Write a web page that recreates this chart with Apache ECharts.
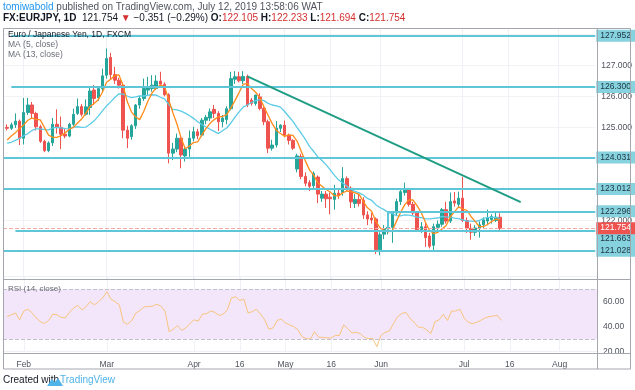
<!DOCTYPE html>
<html><head><meta charset="utf-8">
<script src="https://cdn.jsdelivr.net/npm/echarts@6/dist/echarts.min.js"></script>
<style>html,body{margin:0;padding:0;background:#fff}#c{width:635px;height:390px}</style>
</head><body><div id="c"></div>
<script>
// ---- data (daily bars from 2019-01-28 to 2019-07-12) ----
const firstBarDate = '2019-01-28';
const openP = [125.00,124.97,125.08,125.20,124.65,125.48,125.72,125.45,125.02,124.55,124.25,124.50,125.10,125.00,124.78,124.72,125.10,125.45,125.67,125.42,
125.64,126.20,125.95,126.25,126.68,127.25,126.70,126.52,126.36,124.91,124.70,125.05,125.72,125.93,126.20,126.25,126.25,126.49,126.39,126.05,
124.17,124.30,124.65,124.08,124.30,124.65,124.86,124.75,125.23,125.30,125.58,125.45,125.18,125.25,125.60,126.55,126.63,126.50,126.64,125.88,
125.77,125.98,125.61,125.18,124.33,124.43,124.97,125.07,124.75,124.58,123.66,124.06,123.42,123.22,123.12,123.40,122.72,122.85,122.75,122.68,
122.88,122.90,123.35,123.04,122.55,122.68,122.65,122.18,122.08,122.05,121.06,121.56,121.74,121.78,122.24,122.61,122.90,122.98,122.52,122.24,
121.70,121.80,121.50,121.20,121.78,121.88,122.35,121.98,122.63,122.52,122.72,122.00,121.75,121.62,121.76,121.86,121.98,122.03,122.00,122.105];
const highP = [125.10,125.15,125.45,125.25,125.95,125.95,125.82,125.50,125.08,124.60,124.55,125.30,125.58,125.35,124.95,125.15,125.60,125.93,125.75,125.90,
126.31,126.36,126.30,126.89,127.54,127.40,126.95,126.60,126.45,125.05,125.10,125.75,126.00,126.57,126.63,126.68,126.68,126.79,126.45,126.10,
124.50,124.80,124.70,124.35,124.90,125.02,124.95,125.30,125.40,125.61,125.72,125.52,125.40,125.68,126.79,126.81,126.79,126.81,126.70,125.95,
126.05,126.10,125.70,125.25,124.60,125.20,125.10,125.22,124.80,124.62,124.15,124.15,123.55,123.30,123.58,123.45,122.95,122.95,122.90,123.15,
123.00,123.72,123.42,123.10,122.85,122.85,122.75,122.30,122.25,122.10,121.62,121.85,121.95,122.30,122.70,123.00,123.22,123.05,122.60,122.30,
121.95,121.95,121.60,121.90,122.00,122.40,122.60,122.90,122.92,122.93,123.40,122.10,121.90,121.85,121.97,122.10,122.35,122.20,122.28,122.233];
const lowP = [124.90,124.92,124.98,124.43,124.45,125.40,125.30,124.90,124.50,124.20,124.20,124.40,124.80,124.30,124.65,124.68,125.05,125.40,125.35,125.38,
125.40,125.72,125.85,126.15,126.57,126.55,126.40,126.25,124.65,124.33,124.60,124.95,125.60,125.85,126.04,126.15,126.20,126.35,126.00,123.84,
123.95,124.20,123.68,123.90,124.05,124.55,124.62,124.70,125.10,125.20,125.30,124.88,125.00,125.10,125.55,126.40,126.45,126.40,125.65,125.70,
125.70,125.55,125.07,124.17,124.25,124.35,124.85,124.68,124.45,124.27,123.55,123.33,123.10,122.95,123.00,122.56,122.60,122.40,122.20,122.35,
122.70,122.80,122.95,122.40,122.40,122.45,122.05,121.85,121.90,120.92,120.88,121.40,121.55,121.28,122.15,122.50,122.80,122.45,122.18,121.65,
121.60,121.15,121.10,121.05,121.65,121.80,121.90,121.92,122.45,122.40,121.95,121.60,121.38,121.50,121.45,121.75,121.85,121.90,121.95,121.694];
const closeP = [124.97,125.08,125.20,124.65,125.48,125.72,125.45,125.02,124.55,124.25,124.50,125.10,125.00,124.78,124.72,125.10,125.42,125.67,125.42,125.66,
126.17,125.93,126.25,126.66,127.22,126.70,126.52,126.36,124.91,124.65,125.05,125.72,125.93,126.25,126.30,126.36,126.49,126.39,126.05,124.17,
124.30,124.65,124.11,124.30,124.65,124.86,124.73,125.23,125.32,125.50,125.45,125.18,125.30,125.60,126.57,126.63,126.50,126.64,125.72,125.77,
126.04,125.61,125.18,124.33,124.43,124.97,125.07,124.75,124.58,124.33,124.08,123.42,123.20,123.10,123.52,122.85,122.85,122.70,122.70,122.88,
122.80,123.35,123.04,122.60,122.68,122.55,122.18,122.05,122.02,121.06,121.54,121.74,121.78,122.24,122.61,122.93,122.98,122.52,122.24,121.70,
121.80,121.45,121.17,121.80,121.88,122.35,121.98,122.61,122.56,122.72,122.00,121.75,121.62,121.76,121.86,122.02,122.08,122.13,122.105,121.754];
const ma5 = [124.59,124.72,124.83,124.96,125.08,125.23,125.30,125.26,125.24,125.00,124.75,124.68,124.68,124.73,124.82,124.94,125.00,125.14,125.27,125.45,
125.67,125.77,125.89,126.13,126.45,126.55,126.67,126.69,126.34,125.83,125.50,125.34,125.25,125.52,125.85,126.11,126.27,126.36,126.32,125.89,
125.48,125.11,124.66,124.31,124.40,124.51,124.53,124.75,124.96,125.13,125.25,125.34,125.35,125.41,125.62,125.86,126.12,126.39,126.41,126.25,
126.13,125.96,125.66,125.39,125.12,124.90,124.80,124.71,124.76,124.74,124.56,124.23,123.92,123.63,123.46,123.22,123.10,123.00,122.92,122.80,
122.79,122.89,122.95,122.93,122.89,122.84,122.61,122.41,122.30,121.97,121.77,121.68,121.63,121.67,121.98,122.26,122.51,122.66,122.66,122.47,
122.25,121.94,121.67,121.58,121.62,121.73,121.84,122.12,122.28,122.44,122.37,122.33,122.13,121.97,121.80,121.80,121.87,121.97,122.04,122.02];
const ma13 = [124.49,124.52,124.58,124.65,124.73,124.80,124.90,124.95,124.95,124.93,124.92,124.98,125.00,124.98,124.96,124.95,125.01,125.02,125.00,125.01,
125.10,125.21,125.36,125.53,125.69,125.82,125.96,126.08,126.07,126.01,125.96,125.98,126.01,126.01,126.04,126.05,126.04,125.97,125.92,125.74,
125.58,125.56,125.52,125.46,125.38,125.29,125.18,125.09,125.01,124.94,124.87,124.80,124.89,124.98,125.14,125.33,125.50,125.65,125.72,125.80,
125.86,125.89,125.86,125.77,125.72,125.69,125.65,125.51,125.35,125.19,124.99,124.81,124.61,124.39,124.23,124.05,123.93,123.80,123.63,123.46,
123.31,123.21,123.11,123.00,122.94,122.89,122.82,122.71,122.65,122.51,122.42,122.35,122.26,122.22,122.16,122.15,122.18,122.17,122.15,122.11,
122.09,122.05,122.05,122.07,122.08,122.13,122.11,122.11,122.08,122.06,122.02,121.98,121.98,121.97,122.00,122.07,122.09,122.11,122.09,122.07];
const rsi14 = [48,49.5,51,45.5,52.5,54,51,47,44,42.5,45,50,49.5,47.5,47,51.5,55,57,53.5,56,
60,57.5,60,63,68,62,60,57.5,43.5,42,45,51,53,56,56,56.5,58,56.5,52.5,36,
38,41,37,39,42.5,45.5,44.5,50,50.5,52.5,51.5,49,50,53.5,63,64,61,62,51,52,
54,50,45.5,38,39,45,46,43,41.5,40,37.5,32,30.5,30,36,31.5,31.5,31,31,33,
33,41.5,38.5,35,35.5,34.5,31.5,30.5,30.5,24,33,35.5,36.5,42.5,48,50.5,51.5,46.5,43.5,39.5,
39.5,37.5,34.5,44,45.5,50,45,52.5,52.5,54,47,43.5,42.5,43.5,45,47,48,48.5,49,45];

// horizontal drawn levels: [price, start date]
const levelPrices = [127.952, 126.300, 124.031, 123.012, 122.296, 121.663, 121.028];
const levelStarts = ['2019-01-29', '2019-01-29', '2019-01-25', '2019-01-25', '2019-06-05', '2019-01-30', '2019-01-25'];
const lastPrice = 121.754;
const trendStart = ['2019-04-18', 126.64];
const trendEnd = ['2019-07-19', 122.59];
const bracketDate = '2019-06-05';

const priceTicks = [122, 125, 126, 127];
const rsiTicks = [20, 40, 60];
const tickDates = ['2019-02-01','2019-03-01','2019-04-01','2019-04-16','2019-05-01','2019-05-16','2019-06-03','2019-07-01','2019-07-16','2019-08-01'];
const tickLabels = ['Feb','Mar','Apr','16','May','16','Jun','Jul','16','Aug'];

// ---- category axis: weekdays ----
function fmt(d){const m=d.getUTCMonth()+1, dd=d.getUTCDate();return d.getUTCFullYear()+'-'+(m<10?'0':'')+m+'-'+(dd<10?'0':'')+dd;}
const dates = [];
{ let d = new Date(Date.UTC(2019,0,25)); while (dates.length < 144) { const w=d.getUTCDay(); if (w!==0 && w!==6) dates.push(fmt(d)); d = new Date(d.getTime()+86400000); } }
const off = dates.indexOf(firstBarDate);
const idx = s => dates.indexOf(s);
const pad = arr => dates.map((_, i) => (i >= off && i - off < arr.length) ? arr[i - off] : '-');
const candles = dates.map((_, i) => { const k = i - off; return (k >= 0 && k < closeP.length) ? [openP[k], closeP[k], lowP[k], highP[k]] : '-'; });
const tickMap = {}; tickDates.forEach((d, i) => tickMap[d] = tickLabels[i]);

const FONT = "'Liberation Sans', Arial, sans-serif";
const AXF = 8.5;
const cyan = '#5fc6d8';
const lvlLabel = (txt, bg, col, offY) => ({show:true, position:'end', distance:0, formatter:txt, backgroundColor:bg, color:col,
  fontSize:AXF, fontFamily:FONT, padding:[2,4,1,4], offset:[1, offY||0]});

const markLines = [];
levelPrices.forEach((p, i) => {
  const lab = lvlLabel(p.toFixed(3), '#86d2df', '#1d3340', p === 121.663 ? 8 : 0);
  markLines.push([{coord:[idx(levelStarts[i]), p], label:lab}, {coord:[dates.length-1, p], label:lab}]);
});
markLines.push([{coord:[idx(bracketDate), levelPrices[4]], label:{show:false}}, {coord:[idx(bracketDate), levelPrices[5]], label:{show:false}}]);
const lp = lvlLabel(lastPrice.toFixed(3), '#ef5350', '#ffffff', 0);
markLines.push([{coord:[0, lastPrice], label:lp, lineStyle:{color:'#f4a7a5', type:'dashed', width:1}},
                {coord:[dates.length-1, lastPrice], label:lp, lineStyle:{color:'#f4a7a5', type:'dashed', width:1}}]);
markLines.push([{coord:[idx(trendStart[0]), trendStart[1]], label:{show:false}, lineStyle:{color:'#1f9d84', width:2}},
                {coord:[idx(trendEnd[0]), trendEnd[1]], label:{show:false}, lineStyle:{color:'#1f9d84', width:2}}]);

const chart = echarts.init(document.getElementById('c'), null, {renderer:'canvas'});
const gray = '#a4a7ae';
chart.setOption({
  animation:false,
  textStyle:{fontFamily:FONT},
  grid:[{left:3, top:28, width:594, height:251, show:false},
        {left:3, top:276.7, width:594, height:75, show:false}],
  xAxis:[
    {type:'category', gridIndex:0, data:dates, boundaryGap:false, axisLine:{show:false}, axisTick:{show:false}, axisLabel:{show:false},
     splitLine:{show:true, interval:(i,v)=>v in tickMap, lineStyle:{color:'#eef1f6', width:1}}},
    {type:'category', gridIndex:1, data:dates, boundaryGap:false, axisLine:{show:false}, axisTick:{show:false},
     axisLabel:{show:true, interval:(i,v)=>v in tickMap, formatter:v=>tickMap[v]||'', color:'#50535e', fontSize:AXF, margin:8, fontFamily:FONT},
     splitLine:{show:true, interval:(i,v)=>v in tickMap, lineStyle:{color:'#eef1f6', width:1}}}
  ],
  yAxis:[
    {type:'value', gridIndex:0, position:'right', min:120.116, max:128.2, splitNumber:8, axisLine:{show:false}, axisTick:{show:false},
     axisLabel:{color:'#50535e', fontSize:AXF, margin:6, fontFamily:FONT, formatter:v=>priceTicks.some(t=>Math.abs(t-v)<1e-6)?v.toFixed(3):''},
     splitLine:{show:true, lineStyle:{color:'#f1f3f7'}}},
    {type:'value', gridIndex:1, position:'right', min:20, max:80, interval:20, axisLine:{show:false}, axisTick:{show:false},
     axisLabel:{color:'#50535e', fontSize:AXF, margin:6, fontFamily:FONT, formatter:v=>rsiTicks.includes(v)?v.toFixed(2):''},
     splitLine:{show:true, lineStyle:{color:'#eef0f5'}}}
  ],
  series:[
    {type:'candlestick', xAxisIndex:0, yAxisIndex:0, data:candles, barWidth:3,
     itemStyle:{color:'#26a69a', color0:'#ef5350', borderColor:'#26a69a', borderColor0:'#ef5350', borderWidth:1},
     markLine:{silent:true, symbol:'none', z:5, lineStyle:{color:cyan, width:2, type:'solid'}, data:markLines}},
    {type:'line', xAxisIndex:0, yAxisIndex:0, data:pad(ma13), symbol:'none', lineStyle:{color:'#5ccbe6', width:1.3}, z:3},
    {type:'line', xAxisIndex:0, yAxisIndex:0, data:pad(ma5), symbol:'none', lineStyle:{color:'#ff8c1a', width:1.3}, z:4},
    {type:'line', xAxisIndex:1, yAxisIndex:1, data:pad(rsi14), symbol:'none', lineStyle:{color:'#f7c47c', width:1},
     markArea:{silent:true, itemStyle:{color:'#f3e6fb'}, data:[[{yAxis:30},{yAxis:70}]]},
     markLine:{silent:true, symbol:'none', label:{show:false}, lineStyle:{color:'#c3c0cc', type:'dashed', width:1}, data:[{yAxis:70},{yAxis:30}]}}
  ],
  graphic:[
    {type:'rect', shape:{x:3.5, y:28.5, width:627, height:340.5}, style:{fill:null, stroke:gray, lineWidth:1}, silent:true, z:100},
    {type:'line', shape:{x1:597.5, y1:28.5, x2:597.5, y2:369}, style:{stroke:gray, lineWidth:1}, silent:true, z:100},
    {type:'line', shape:{x1:3.5, y1:279.5, x2:630.5, y2:279.5}, style:{stroke:gray, lineWidth:1}, silent:true, z:100},
    {type:'line', shape:{x1:3.5, y1:353.5, x2:630.5, y2:353.5}, style:{stroke:gray, lineWidth:1}, silent:true, z:100},
    {type:'text', left:3, top:2, style:{text:'{u|tomiwabold} published on TradingView.com, July 12, 2019 13:58:06 WAT', fontSize:10, fill:'#50535e', fontFamily:FONT,
      rich:{u:{fill:'#2196f3', fontSize:10, fontFamily:FONT}}}},
    {type:'text', left:3, top:13, style:{text:'{b|FX:EURJPY, 1D}  121.754 {r|▼} −0.351 (−0.29%) {b|O:}{r|122.105} {b|H:}{r|122.233} {b|L:}{r|121.694} {b|C:}{r|121.754}',
      fontSize:10, fill:'#131722', fontFamily:FONT,
      rich:{b:{fontWeight:'bold', fill:'#131722', fontSize:10, fontFamily:FONT}, r:{fill:'#d32f2f', fontSize:10, fontFamily:FONT}}}},
    {type:'text', left:8, top:30, style:{text:'Euro / Japanese Yen, 1D, FXCM', fontSize:8.5, fill:'#131722', fontFamily:FONT}, z:101},
    {type:'text', left:8, top:40, style:{text:'MA (5, close)', fontSize:8.5, fill:'#6a6d78', fontFamily:FONT}, z:101},
    {type:'text', left:8, top:50, style:{text:'MA (13, close)', fontSize:8.5, fill:'#6a6d78', fontFamily:FONT}, z:101},
    {type:'text', left:8, top:285, style:{text:'RSI (14, close)', fontSize:8, fill:'#6a6d78', fontFamily:FONT}, z:101},
    {type:'text', left:3, top:375, style:{text:'Created with', fontSize:10, fill:'#131722', fontFamily:FONT}},
    {type:'polygon', shape:{points:[[47,386],[52,379],[55,382],[58,378],[63,386]]}, style:{fill:'#4fb3e8'}},
    {type:'text', left:60, top:375, style:{text:'TradingView', fontSize:10, fill:'#4fb3e8', fontFamily:FONT}}
  ]
});
</script></body></html>
